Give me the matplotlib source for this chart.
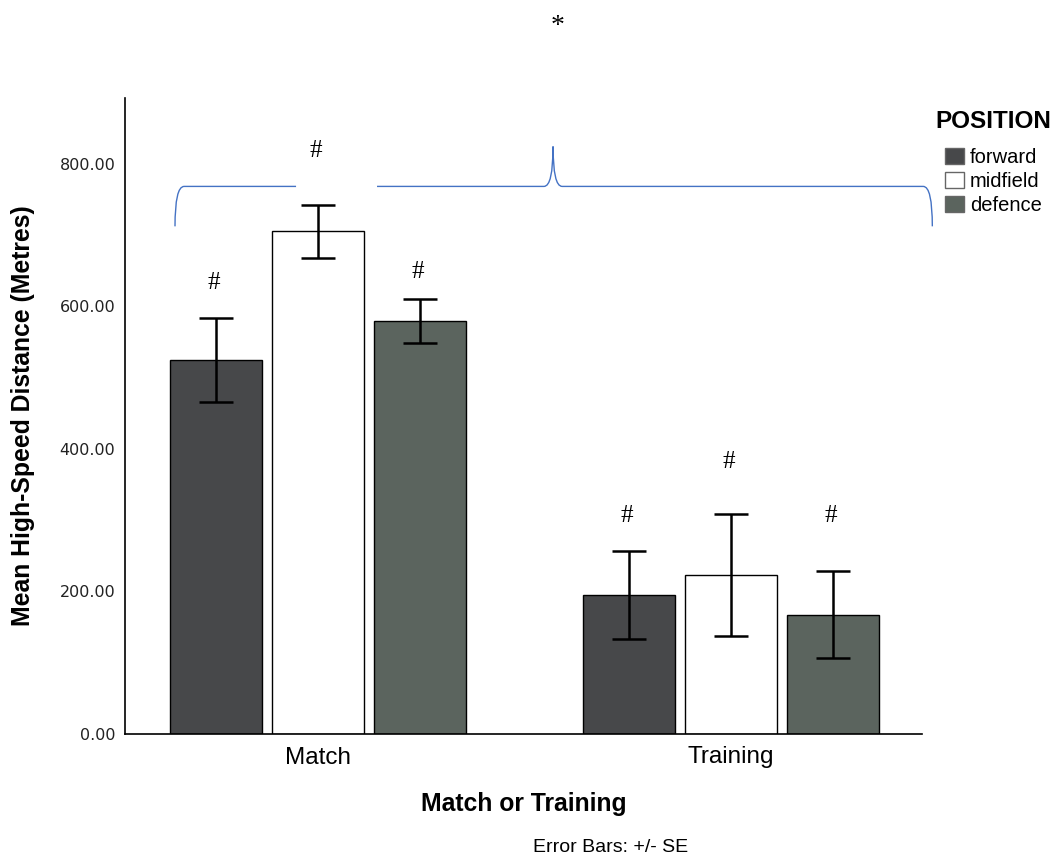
import matplotlib
matplotlib.use('Agg')
import matplotlib.pyplot as plt
import numpy as np
from matplotlib.path import Path
from matplotlib.patches import PathPatch, Patch

# ---------------- data ----------------
groups = ['Match', 'Training']
positions = ['forward', 'midfield', 'defence']
means = {'forward': [525, 195], 'midfield': [705, 223], 'defence': [579, 167]}
se = {'forward': [59, 62], 'midfield': [37, 86], 'defence': [31, 61]}
hash_y = {'forward': [633, 306], 'midfield': [817, 382], 'defence': [648, 306]}
colors = {'forward': '#47484a', 'midfield': '#ffffff', 'defence': '#5b645e'}
yticks = [0, 200, 400, 600, 800]

SANS = ['Liberation Sans', 'DejaVu Sans']
SERIF = ['Liberation Serif', 'DejaVu Serif']

fig = plt.figure(figsize=(10.58, 8.6), dpi=100)
ax = fig.add_axes([125/1058, 1-734/860, (922-125)/1058, (734-98)/860])

x = np.arange(len(groups))
step, width = 0.247, 0.223
for k, pos in enumerate(positions):
    xs = x + (k - 1) * step
    ax.bar(xs, means[pos], width, color=colors[pos], edgecolor='black', lw=1.0, zorder=2)
    ax.errorbar(xs, means[pos], yerr=se[pos], fmt='none', ecolor='black',
                elinewidth=1.8, capsize=12, capthick=1.8, zorder=3)
    for xi, hy in zip(xs, hash_y[pos]):
        ax.text(xi - 0.006, hy, '#', ha='center', va='center', fontsize=18,
                family=SERIF, zorder=4)

ax.set_xlim(-0.467, 1.462)
ax.set_ylim(0, 892)
ax.set_xticks(x)
ax.set_xticklabels(groups, family=SANS, fontsize=17.5)
ax.set_yticks(yticks)
ax.set_yticklabels([f'{v:.2f}' for v in yticks], family='DejaVu Sans',
                   fontsize=11.5, color='#222222')
ax.tick_params(axis='both', length=0)
ax.tick_params(axis='x', pad=9)
ax.tick_params(axis='y', pad=7)
for s in ['top', 'right']:
    ax.spines[s].set_visible(False)
for s in ['left', 'bottom']:
    ax.spines[s].set_linewidth(1.2)

# curly brace across both groups, with a gap for the midfield '#'
yb, yb0, ypk = 768, 712, 824
xl, xr, xp, r = -0.346, 1.487, 0.569, 0.022
gl, gr = -0.053, 0.143
verts = [(xl, yb0), (xl, yb), (xl + r, yb), (gl, yb),
         (gr, yb), (xp - r, yb),
         (xp, yb), (xp, ypk), (xp, yb), (xp + r, yb),
         (xr - r, yb), (xr, yb), (xr, yb0)]
codes = [Path.MOVETO, Path.CURVE3, Path.CURVE3, Path.LINETO,
         Path.MOVETO, Path.LINETO,
         Path.CURVE3, Path.CURVE3, Path.CURVE3, Path.CURVE3,
         Path.LINETO, Path.CURVE3, Path.CURVE3]
ax.add_patch(PathPatch(Path(verts, codes), fill=False, edgecolor='#4472c4',
                       lw=1.0, clip_on=False, zorder=5))
ax.text(0.581, 992, '*', ha='center', va='center', fontsize=20,
        family=SERIF, clip_on=False)

# axis labels
fig.text(23/1058, 1-416/860, 'Mean High-Speed Distance (Metres)', rotation=90,
         ha='center', va='center', fontsize=17.8, fontweight='bold', family=SANS)
fig.text(523.5/1058, 1-804/860, 'Match or Training', ha='center', va='center',
         fontsize=17.8, fontweight='bold', family=SANS)
fig.text(611/1058, 1-848/860, 'Error Bars: +/- SE', ha='center', va='center',
         fontsize=14, family=SANS)

# legend
fig.text(935/1058, 1-122/860, 'POSITION', ha='left', va='center',
         fontsize=17.5, fontweight='bold', family=SANS)
handles = [Patch(facecolor=colors[p], edgecolor='#666666', lw=1.0) for p in positions]
fig.legend(handles, positions, loc='upper left',
           bbox_to_anchor=(945/1058, 1-148/860), frameon=False, borderpad=0,
           borderaxespad=0, handlelength=0.95, handleheight=0.85, handletextpad=0.3,
           labelspacing=0.25, prop={'family': SANS, 'size': 14.5})

fig.savefig('out.png', dpi=100)
